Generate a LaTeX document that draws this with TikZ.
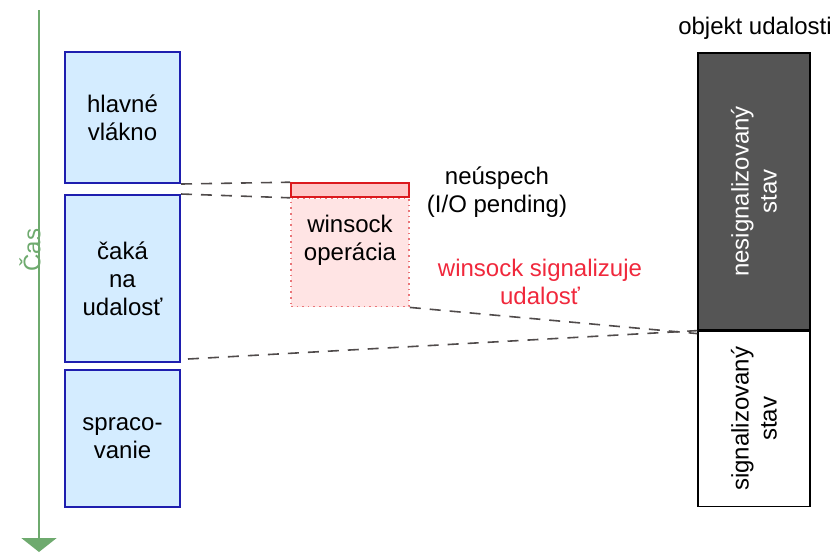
\documentclass[tikz,border=0pt]{standalone}
\usepackage{fontspec}
\setmainfont{Liberation Sans}
\definecolor{TimeGreen}{RGB}{110, 170, 110}
\definecolor{ThreadBlue}{RGB}{30, 30, 175}
\definecolor{ThreadFill}{RGB}{212, 236, 255}
\definecolor{OpRed}{RGB}{220, 25, 30}
\definecolor{OpFill}{RGB}{255, 200, 200}
\definecolor{OpPale}{RGB}{255, 228, 228}
\definecolor{SignalRed}{RGB}{240, 40, 60}
\definecolor{StateGray}{RGB}{85, 85, 85}
\definecolor{LinkGray}{RGB}{80, 75, 75}
\usetikzlibrary{arrows.meta, positioning, calc}

\begin{document}
\begin{tikzpicture}[x=0.5pt, y=-0.5pt, font=\fontsize{12}{14}\selectfont]
        % --- Styles ---
        \tikzstyle{thread}=[draw=ThreadBlue, fill=ThreadFill, line width=1pt, align=center, minimum width=57.5pt, inner sep=0pt]
        \tikzstyle{state}=[draw=black, line width=0.6pt, align=center, rotate=90, minimum height=56pt, inner sep=0pt]
        \tikzstyle{link}=[draw=LinkGray, line width=0.8pt, dash pattern=on 5.5pt off 4.5pt]
        \useasboundingbox (0,0) rectangle (833,554);

        % --- 1. Time Axis ---
        \draw[-{Triangle[width=17.5pt, length=7pt]}, line width=1pt, TimeGreen] (39,10) -- (39,552);
        \node[text=TimeGreen, rotate=90] (cas) at (30,250) {Čas};

        % --- 2. Main Thread ---
        \node[thread, minimum height=65.5pt] (hlavne) at (122.5,117.5) {hlavné\\vlákno};
        \node[thread, minimum height=83.5pt] (caka) at (122.5,278.5) {čaká\\na\\udalosť};
        \node[thread, minimum height=68.5pt] (spraco) at (122.5,438.5) {spraco-\\vanie};

        % --- 3. Winsock Operation ---
        \node[draw=OpRed, fill=OpFill, line width=0.8pt, minimum width=59pt, minimum height=7pt, inner sep=0pt] (fail) at (350,190) {};
        \node[draw=OpRed!60, fill=OpPale, dotted, line width=0.8pt, minimum width=59pt, minimum height=54pt, inner sep=0pt, below=0pt of fail] (oper) {};
        \node[align=center] (opertext) at (350,240) {winsock\\operácia};
        \node[align=center] (neuspech) at (497,192) {neúspech\\(I/O pending)};
        \node[align=center, text=SignalRed] (signal) at (540,282) {winsock signalizuje\\udalosť};

        % --- 4. Event Object ---
        \node (objekt) at (755,28) {objekt udalosti};
        \node[state, fill=StateGray, text=white, minimum width=138.5pt] (nesig) at (754,191.5) {nesignalizovaný\\stav};
        \node[state, fill=white, minimum width=87.5pt, anchor=east] (sig) at (nesig.west) {signalizovaný\\stav};

        % --- 5. Links ---
        \draw[link] (hlavne.south east) -- (fail.north west);
        \draw[link] (caka.north east) -- (fail.south west);
        \draw[link] (oper.south east) -- ($(nesig.north west)+(0,3)$);
        \draw[link] ($(caka.south east)+(7,-4)$) -- (nesig.north west);

    \end{tikzpicture}
\end{document}
